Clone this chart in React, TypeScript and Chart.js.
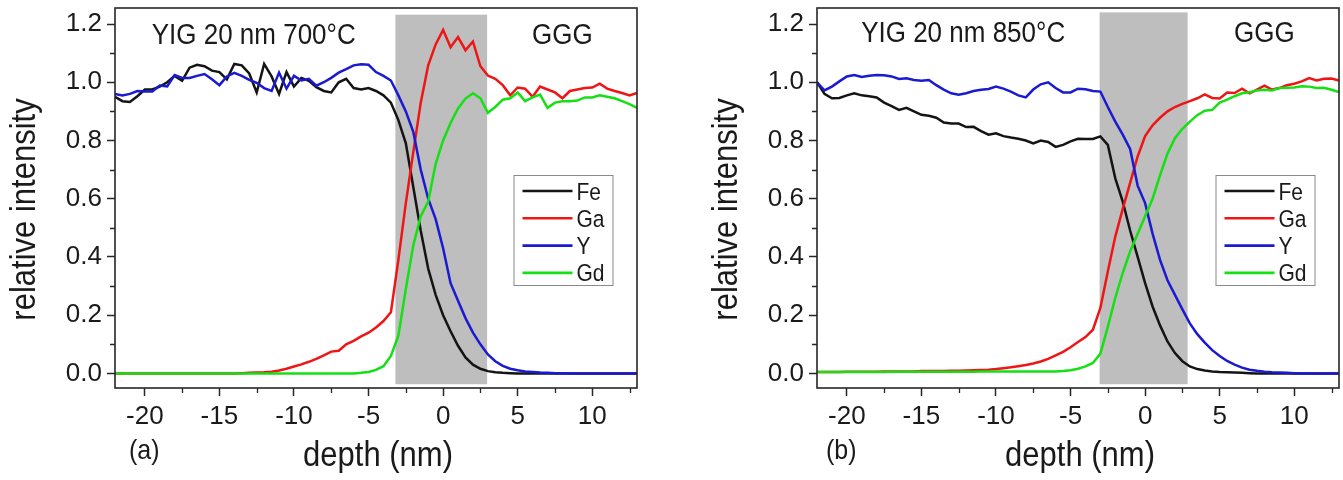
import React, { useEffect, useRef } from "react";
import { Chart, registerables } from "chart.js";

Chart.register(...registerables);

const FONT = "'Liberation Sans', Arial, sans-serif";

// depth axis (nm)
const depth = [
  -22, -21.5, -21, -20.5, -20, -19.5, -19, -18.5, -18, -17.5, -17, -16.5, -16, -15.5, -15, -14.5,
  -14, -13.5, -13, -12.5, -12, -11.5, -11, -10.5, -10, -9.5, -9, -8.5, -8, -7.5, -7, -6.5, -6,
  -5.5, -5, -4.5, -4, -3.5, -3, -2.5, -2, -1.5, -1, -0.5, 0, 0.5, 1, 1.5, 2, 2.5, 3, 3.5, 4, 4.5,
  5, 5.5, 6, 6.5, 7, 7.5, 8, 8.5, 9, 9.5, 10, 10.5, 11, 11.5, 12, 12.5, 13,
];

// Panel (a): YIG 20 nm 700°C
const feA = [
  0.95, 0.935, 0.932, 0.952, 0.975, 0.975, 0.985, 1.0, 1.022, 1.005, 1.05, 1.06, 1.055, 1.04, 1.035, 1.01,
  1.063, 1.058, 1.03, 0.965, 1.063, 1.02, 0.96, 1.035, 0.985, 1.015, 1.005, 0.983, 0.97, 0.965, 1.0, 1.012, 0.98,
  0.975, 0.98, 0.97, 0.955, 0.93, 0.87, 0.79, 0.64, 0.49, 0.36, 0.27, 0.2, 0.145, 0.095, 0.055, 0.03, 0.016, 0.008, 0.004, 0.002, 0.001,
  0, 0, 0, 0, 0, 0, 0, 0, 0, 0, 0, 0, 0, 0, 0, 0, 0,
];
const gaA = [
  0, 0, 0, 0, 0, 0, 0, 0, 0, 0, 0, 0, 0, 0, 0, 0,
  0, 0.001, 0.002, 0.003, 0.004, 0.006, 0.01, 0.016, 0.024, 0.031, 0.04, 0.05, 0.062, 0.075, 0.078, 0.1, 0.112,
  0.127, 0.14, 0.158, 0.18, 0.21, 0.39, 0.585, 0.76, 0.93, 1.058, 1.13, 1.18, 1.12, 1.155, 1.11, 1.14, 1.055, 1.023, 1.012, 0.99, 0.955,
  0.982, 0.978, 0.95, 0.985, 0.975, 0.965, 0.945, 0.97, 0.975, 0.98, 0.982, 0.995, 0.978, 0.97, 0.963, 0.955, 0.963,
];
const yA = [
  0.96, 0.955, 0.96, 0.97, 0.968, 0.968, 0.989, 0.986, 1.025, 1.015, 1.015, 1.022, 1.028, 1.01, 0.99, 1.02,
  1.032, 1.022, 1.008, 0.998, 0.98, 0.97, 1.033, 0.978, 1.022, 1.006, 1.012, 0.988, 1.0, 1.015, 1.033, 1.045, 1.058,
  1.062, 1.06, 1.035, 1.022, 1.006, 0.955, 0.9, 0.83, 0.7, 0.6, 0.53, 0.43, 0.31, 0.25, 0.19, 0.14, 0.1, 0.065, 0.042, 0.026, 0.016,
  0.011, 0.007, 0.005, 0.003, 0.002, 0.001, 0.001, 0, 0, 0, 0, 0, 0, 0, 0, 0, 0,
];
const gdA = [
  0, 0, 0, 0, 0, 0, 0, 0, 0, 0, 0, 0, 0, 0, 0, 0,
  0, 0, 0, 0, 0, 0, 0, 0, 0, 0, 0, 0, 0, 0, 0, 0, 0,
  0.002, 0.005, 0.012, 0.025, 0.06, 0.13, 0.29, 0.44, 0.54, 0.59, 0.72, 0.8, 0.86, 0.91, 0.944, 0.962, 0.945, 0.895, 0.915, 0.94, 0.945,
  0.965, 0.935, 0.948, 0.958, 0.912, 0.93, 0.935, 0.935, 0.937, 0.948, 0.948, 0.955, 0.95, 0.945, 0.935, 0.925, 0.912,
];

// Panel (b): YIG 20 nm 850°C
const feB = [
  1.0, 0.96, 0.945, 0.946, 0.955, 0.962, 0.955, 0.952, 0.948, 0.93, 0.918, 0.905, 0.912, 0.9, 0.888, 0.885,
  0.878, 0.862, 0.858, 0.858, 0.846, 0.847, 0.832, 0.82, 0.825, 0.815, 0.81, 0.806, 0.8, 0.79, 0.8, 0.795, 0.778,
  0.785, 0.797, 0.806, 0.805, 0.805, 0.814, 0.785, 0.67, 0.59, 0.49, 0.4, 0.31, 0.23, 0.165, 0.11, 0.07, 0.042, 0.024, 0.015, 0.01, 0.007,
  0.005, 0.004, 0.003, 0.002, 0.001, 0, 0, 0, 0, 0, 0, 0, 0, 0, 0, 0, 0,
];
const gaB = [
  0.005, 0.005, 0.005, 0.005, 0.006, 0.006, 0.006, 0.006, 0.006, 0.007, 0.007, 0.007, 0.007, 0.007, 0.008, 0.008,
  0.008, 0.008, 0.009, 0.009, 0.01, 0.011, 0.012, 0.013, 0.015, 0.018, 0.021, 0.025, 0.029, 0.034, 0.041, 0.05, 0.062,
  0.074, 0.09, 0.108, 0.125, 0.15, 0.225, 0.35, 0.47, 0.565, 0.655, 0.745, 0.815, 0.852, 0.878, 0.9, 0.915, 0.926, 0.935, 0.945, 0.958, 0.946,
  0.944, 0.965, 0.963, 0.978, 0.962, 0.975, 0.988, 0.975, 0.98, 0.99, 0.995, 1.003, 1.014, 1.006, 1.012, 1.013, 1.006,
];
const yB = [
  1.0, 0.972, 0.985, 1.003, 1.02, 1.025, 1.018, 1.022, 1.025, 1.024, 1.02, 1.011, 1.014, 1.008, 1.005, 1.008,
  0.99, 0.975, 0.962, 0.957, 0.962, 0.97, 0.974, 0.977, 0.985, 0.978, 0.968, 0.955, 0.948, 0.975, 0.993, 1.0, 0.98,
  0.965, 0.965, 0.978, 0.976, 0.97, 0.968, 0.915, 0.865, 0.82, 0.77, 0.645, 0.585, 0.48, 0.39, 0.32, 0.27, 0.22, 0.172, 0.135, 0.106, 0.08,
  0.06, 0.043, 0.03, 0.02, 0.013, 0.009, 0.006, 0.004, 0.003, 0.002, 0.001, 0, 0, 0, 0, 0, 0,
];
const gdB = [
  0.005, 0.005, 0.005, 0.005, 0.005, 0.005, 0.005, 0.005, 0.005, 0.005, 0.006, 0.006, 0.006, 0.006, 0.006, 0.006,
  0.006, 0.006, 0.006, 0.006, 0.006, 0.006, 0.007, 0.007, 0.007, 0.007, 0.007, 0.007, 0.007, 0.007, 0.007, 0.007, 0.007,
  0.008, 0.011, 0.016, 0.024, 0.036, 0.068, 0.16, 0.26, 0.345, 0.42, 0.48, 0.54, 0.6, 0.68, 0.755, 0.808, 0.84, 0.865, 0.887, 0.902, 0.905,
  0.93, 0.94, 0.952, 0.962, 0.966, 0.972, 0.974, 0.972, 0.98, 0.981, 0.982, 0.986, 0.985, 0.98, 0.981, 0.974, 0.966,
];

const seriesNames = ["Fe", "Ga", "Y", "Gd"];
const seriesColors = ["#141414", "#f01515", "#1a1ad0", "#14e014"];

const xTicks = [-20, -15, -10, -5, 0, 5, 10];
const yTicks = [0, 0.2, 0.4, 0.6, 0.8, 1.0, 1.2];
const xRange = [-22, 13];
const yRange = [-0.05, 1.255];

// interface band (gray): [x0, x1], [y0, y1]
const bandA = [-3.2, 2.95];
const bandAY = [-0.037, 1.232];
const bandB = [-3.05, 2.85];
const bandBY = [-0.037, 1.24];

const xTitle = "depth (nm)";
const yTitle = "relative intensity";

type PanelCfg = {
  width: number;
  left: number;
  plotLeft: number;
  plotRight: number;
  series: number[][];
  band: number[];
  bandY: number[];
  label: string;
  labelDx: number;
  sampleText: string;
  sampleX: number;
  substrateX: number;
  textY: number;
};

const panels: PanelCfg[] = [
  {
    width: 670, left: 0, plotLeft: 115, plotRight: 637,
    series: [feA, gaA, yA, gdA], band: bandA, bandY: bandAY,
    label: "(a)", labelDx: 14, sampleText: "YIG 20 nm 700°C", sampleX: -12.7, substrateX: 8, textY: 1.133,
  },
  {
    width: 673, left: 670, plotLeft: 147, plotRight: 669,
    series: [feB, gaB, yB, gdB], band: bandB, bandY: bandBY,
    label: "(b)", labelDx: 9, sampleText: "YIG 20 nm 850°C", sampleX: -12.2, substrateX: 8, textY: 1.138,
  },
];

const HEIGHT = 480;
const TOP = 8;
const BOTTOM = 388;
const INK = "#262626";
const STRETCH = 1.12; // the reference glyphs are slightly taller than wide

function tallText(ctx: any, text: string, x: number, y: number) {
  ctx.save();
  ctx.translate(x, y);
  ctx.scale(1, STRETCH);
  ctx.fillText(text, 0, 0);
  ctx.restore();
}

function makeDecor(cfg: PanelCfg) {
  return {
    id: "decor",
    beforeDatasetsDraw(chart: any) {
      const { ctx, scales } = chart;
      const xs = scales.x, ys = scales.y;
      const x0 = xs.getPixelForValue(cfg.band[0]);
      const x1 = xs.getPixelForValue(cfg.band[1]);
      const y0 = ys.getPixelForValue(cfg.bandY[1]);
      const y1 = ys.getPixelForValue(cfg.bandY[0]);
      ctx.save();
      ctx.fillStyle = "#bebebe";
      ctx.fillRect(x0, y0, x1 - x0, y1 - y0);
      ctx.restore();
    },
    afterDraw(chart: any) {
      const { ctx, chartArea: a, scales } = chart;
      const xs = scales.x, ys = scales.y;
      ctx.save();
      // frame
      ctx.strokeStyle = INK;
      ctx.lineWidth = 1.6;
      ctx.strokeRect(a.left, a.top, a.right - a.left, a.bottom - a.top);
      // minor ticks
      ctx.lineWidth = 1.3;
      ctx.beginPath();
      for (let i = 0; i < xTicks.length; i++) {
        const step = i < xTicks.length - 1 ? xTicks[i + 1] - xTicks[i] : xTicks[i] - xTicks[i - 1];
        const vals = [xTicks[i] + step / 2];
        if (i === 0) vals.push(xTicks[0] - step / 2);
        for (const v of vals) {
          if (v <= xRange[0] || v >= xRange[1]) continue;
          const px = Math.round(xs.getPixelForValue(v)) + 0.5;
          ctx.moveTo(px, a.bottom);
          ctx.lineTo(px, a.bottom + 5);
        }
      }
      for (let i = 0; i < yTicks.length; i++) {
        const step = i < yTicks.length - 1 ? yTicks[i + 1] - yTicks[i] : yTicks[i] - yTicks[i - 1];
        const v = yTicks[i] + step / 2;
        if (v <= yRange[0] || v >= yRange[1]) continue;
        const py = Math.round(ys.getPixelForValue(v)) + 0.5;
        ctx.moveTo(a.left, py);
        ctx.lineTo(a.left - 5, py);
      }
      ctx.stroke();

      // annotations
      ctx.fillStyle = "#1a1a1a";
      ctx.font = `26px ${FONT}`;
      ctx.textAlign = "center";
      ctx.textBaseline = "alphabetic";
      tallText(ctx, cfg.sampleText, xs.getPixelForValue(cfg.sampleX), ys.getPixelForValue(cfg.textY));
      tallText(ctx, "GGG", xs.getPixelForValue(cfg.substrateX), ys.getPixelForValue(cfg.textY));

      // legend
      const lx = a.left + 398.5, ly = a.top + 167, lw = 99, lh = 110;
      ctx.fillStyle = "#ffffff";
      ctx.fillRect(lx, ly, lw, lh);
      ctx.strokeStyle = "#8a8a8a";
      ctx.lineWidth = 1;
      ctx.strokeRect(lx + 0.5, ly + 0.5, lw, lh);
      ctx.font = `21px ${FONT}`;
      ctx.textAlign = "left";
      ctx.textBaseline = "alphabetic";
      seriesNames.forEach((name, i) => {
        const ry = ly + 16 + i * 27.3;
        ctx.strokeStyle = seriesColors[i];
        ctx.lineWidth = 2.6;
        ctx.beginPath();
        ctx.moveTo(lx + 9, ry);
        ctx.lineTo(lx + 59, ry);
        ctx.stroke();
        ctx.fillStyle = "#1a1a1a";
        tallText(ctx, name, lx + 63, ry + 8.5);
      });

      // axis titles
      ctx.fillStyle = "#1a1a1a";
      ctx.font = `31px ${FONT}`;
      ctx.textAlign = "center";
      ctx.textBaseline = "alphabetic";
      tallText(ctx, xTitle, (a.left + a.right) / 2 + 2, a.bottom + 78);
      ctx.save();
      ctx.translate(a.left - 80, a.top + 201.5);
      ctx.rotate(-Math.PI / 2);
      ctx.scale(1, STRETCH);
      ctx.fillText(yTitle, 0, 0);
      ctx.restore();
      // panel label
      ctx.font = `25px ${FONT}`;
      ctx.textAlign = "left";
      tallText(ctx, cfg.label, a.left + cfg.labelDx, a.bottom + 71);
      ctx.restore();
    },
  };
}

function Panel({ cfg }: { cfg: PanelCfg }) {
  const ref = useRef<HTMLCanvasElement | null>(null);
  useEffect(() => {
    if (!ref.current) return;
    const datasets = cfg.series.map((vals, i) => ({
      label: seriesNames[i],
      data: depth.map((d, k) => ({ x: d, y: vals[k] })),
      borderColor: seriesColors[i],
      backgroundColor: seriesColors[i],
      borderWidth: 2.5,
      pointRadius: 0,
      tension: 0,
      fill: false,
      order: 3 - i,
    }));
    const chart = new Chart(ref.current, {
      type: "line",
      data: { datasets },
      plugins: [makeDecor(cfg)],
      options: {
        animation: false,
        responsive: false,
        maintainAspectRatio: false,
        events: [],
        layout: { padding: { left: 0, right: cfg.width - cfg.plotRight, top: TOP, bottom: 0 } },
        plugins: { legend: { display: false }, tooltip: { enabled: false } },
        scales: {
          x: {
            type: "linear",
            min: xRange[0],
            max: xRange[1],
            afterBuildTicks: (s: any) => { s.ticks = xTicks.map((v) => ({ value: v })); },
            afterFit: (s: any) => { s.height = HEIGHT - BOTTOM; s.paddingLeft = 0; s.paddingRight = 0; },
            grid: { drawOnChartArea: false, drawTicks: true, tickLength: 8, tickColor: INK, tickWidth: 1.5 },
            border: { display: false },
            ticks: {
              color: "#1a1a1a",
              font: { family: FONT, size: 26 },
              padding: 5,
              maxRotation: 0,
              autoSkip: false,
              callback: (v: any) => String(v),
            },
          },
          y: {
            type: "linear",
            min: yRange[0],
            max: yRange[1],
            afterBuildTicks: (s: any) => { s.ticks = yTicks.map((v) => ({ value: v })); },
            afterFit: (s: any) => { s.width = cfg.plotLeft; s.paddingTop = 0; s.paddingBottom = 0; },
            grid: { drawOnChartArea: false, drawTicks: true, tickLength: 8, tickColor: INK, tickWidth: 1.5 },
            border: { display: false },
            ticks: {
              color: "#1a1a1a",
              font: { family: FONT, size: 26 },
              padding: 5,
              autoSkip: false,
              callback: (v: any) => Number(v).toFixed(1),
            },
          },
        },
      },
    } as any);
    return () => chart.destroy();
  }, [cfg]);
  return (
    <canvas
      ref={ref}
      width={cfg.width}
      height={HEIGHT}
      style={{ position: "absolute", left: cfg.left, top: 0, width: cfg.width, height: HEIGHT }}
    />
  );
}

export default function App() {
  return (
    <div style={{ position: "absolute", left: 0, top: 0, width: 1343, height: HEIGHT, background: "#ffffff", overflow: "hidden" }}>
      {panels.map((p) => (
        <Panel key={p.label} cfg={p} />
      ))}
    </div>
  );
}
